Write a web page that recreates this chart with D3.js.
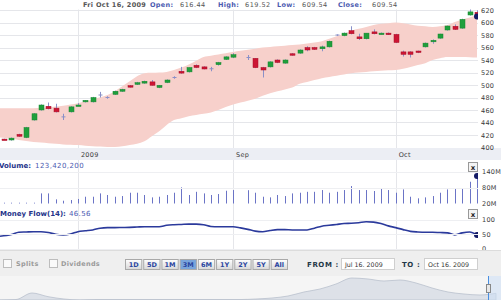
<!DOCTYPE html>
<html>
<head>
<meta charset="utf-8">
<script src="https://cdn.jsdelivr.net/npm/d3@7"></script>
<style>
body { margin: 0; background: #fff; }
svg { display: block; font-family: "DejaVu Sans", Verdana, sans-serif; }
</style>
</head>
<body>
<svg id="chart"></svg>
<script>
// daily OHLC, slot 32 is an empty gap in the feed
let opens  = [413.5,412,421,416,444,460,466,463,449,457,
              467,473,473,484,480,485,490,499,501,503,
              505,496,504,512,522,521,531.5,529,526,532.5,
              541,544.5,null,544,542.7,528,529,540,535,550,
              551,560,560,558,561,580,579,587,577,574,
              585,582,583,581,553,553,554.4,561,569.5,575,
              588,594,591,612,616.44];
let highs  = [414,416,422,433,455,469,472,470,454,466,
              471,476,481,489,482,491,494,500,505,507,
              508,500,509,514,529,528,533,530,529,537,
              546,551,null,548,543,529,538,541,541,551,
              557,562,561,563,571,581,584,594,582,583,
              589,584,584,582,555,554,555,568,573,582,
              595,597,606,626,619.52];
let lows   = [412.5,411,417,415,443,459,461,456,444,456,
              466,472,472,480,478,484,489,496,500,502,
              499,495,503,510,518,520,527,525,522,531,
              540,543,null,540,527,512,528,535,534,547,
              550,554,556,554,560,578.5,578,581,572,573,
              581,581,580,567,545.5,544,551,560,566,574,
              587,588,590,611,609.54];
let closes = [413,415,418,432,454,468,462,457,449,465,
              468,475.5,480,484,480,490,493,496.5,503.7,506,
              499.5,499.5,508,512,519,528,528,525.6,526,536,
              545,548.5,null,544,527.7,524,537,536,540,548,
              556,556,557,561,570,580,583,582,574,583,
              582,583,580.5,568,549,549,552,567,571.5,581.6,
              594.4,589,605,617,609.54];

// envelope band (upper / lower)
let band_upper = [463,463,463,463,463,463.5,464,465.5,467,469,
                  471,474,477,480.5,484,490,498,506,514,519,
                  519.5,520,521,524,528,533,539,545,547,549,
                  551,553,555,556.5,558,560,561,562,563,564,
                  565,566.5,568,570,574,578,582,587,590,593,
                  596,598,599,600,599,597,595,594,593,594,
                  596,601,605,608,613];
let band_lower = [416,414,412,410.5,409,408,407,406,405,404.5,
                  404,403,402,401.5,401,401,402,404,406,410,
                  418,426,436,444,447,450,452,454,456,460,
                  465,469,472,475,478,483,487,490,493,496,
                  502,505,508,511,513,515,517,519,520,521,
                  522,523,523.5,524,526,529,532,535,540,543,
                  545,545,545,544.5,544];

// volume in millions
let volumes = [23,23,23,23,23,58,58,35.6,30.5,33,
               37,45.5,45.5,58,52,45.5,48,60.5,60.5,52,
               43,45.5,52,60.5,80.7,52,64,58,52,55.6,
               68,70.6,null,70,60.5,45.5,43,52,48,58,
               60.5,64,64,70.6,60.5,64,70.6,85.6,70.6,70.6,
               67,78,70.6,60.5,73,45.5,39.5,43,48,60.5,
               73,77,77,101.8,123.4202];

let money_flow = [42,48,56,57,58,58,55,49,47,50,
                  58,61,64,70,72,72,72.5,73,74,75,
                  75,75,80,82,83,84,84,82,76,75,
                  75,75,71,66,60,58,62,65,65,64,
                  64,64,70,77,80,83,86,87,89,92,
                  91,86,78,72,65,59,57,56,56,55,
                  54,47,54,57,46.56];

let month_labels = ["2009", "Sep", "Oct"];
let month_index = [10, 31, 53];
let price_ticks = [400,420,440,460,480,500,520,540,560,580,600,620];
let volume_ticks = [20, 80, 140];
let mf_ticks = [0, 50, 100];

let quote_date = "Fri Oct 16, 2009";
let quote_names = ["Open:", "High:", "Low:", "Close:"];
let quote_values = ["616.44", "619.52", "609.54", "609.54"];
let volume_title = "Volume:";
let volume_text = "123,420,200";
let mf_title = "Money Flow(14):";
let mf_text = "46.56";

let range_buttons = ["1D","5D","1M","3M","6M","1Y","2Y","5Y","All"];
let range_active = "3M";
let date_from = "Jul 16. 2009";
let date_to = "Oct 16. 2009";

// long-range navigator series
let nav_values = [280,287,385,330,295,280,287,287,287,287,287,287,287,287,287,287,
                  295,310,340,400,445,520,610,595,565,580,535,460,400,370,355,380];

let width = 501, height = 300;
let plot_left = 0, plot_right = 478;
let svg = d3.select('#chart').attr('width', width).attr('height', height);

let x = d3.scaleLinear([0, 64], [4, 477]);
let y_price = d3.scaleLinear([400, 620], [147.5, 10]);
let y_vol = d3.scaleLinear([20, 140], [203.5, 171.6]);
let y_mf = d3.scaleLinear([0, 100], [248.5, 219.5]);
let x_nav = d3.scaleLinear([0, nav_values.length - 1], [0, 496]);
let y_nav = d3.scaleLinear([280, 640], [300, 276]);

let grid_color = '#e5e6ea';
let axis_color = '#3a3a3a';
let title_blue = '#25348a';
let value_blue = '#4a5ab0';

svg.append('clipPath').attr('id', 'plot-clip')
    .append('rect').attr('x', plot_left).attr('y', 0).attr('width', plot_right - plot_left).attr('height', 300);

// ---------- main price panel ----------
svg.append('g').selectAll('line').data(price_ticks).join('line')
    .attr('x1', plot_left).attr('x2', plot_right)
    .attr('y1', d => Math.round(y_price(d)) + 0.5).attr('y2', d => Math.round(y_price(d)) + 0.5)
    .attr('stroke', grid_color);

// x axis band
svg.append('rect').attr('x', 0).attr('y', 148).attr('width', width).attr('height', 12).attr('fill', '#eceef4');

// vertical month lines in every panel
[[0, 148], [160, 208], [208, 250]].forEach(([y0, y1]) => {
    svg.append('g').selectAll('line').data(month_index).join('line')
        .attr('x1', d => Math.round(x(d)) + 0.5).attr('x2', d => Math.round(x(d)) + 0.5)
        .attr('y1', y0).attr('y2', y1)
        .attr('stroke', grid_color);
});

let plot = svg.append('g').attr('clip-path', 'url(#plot-clip)');

let band = d3.area()
    .defined(d => d[0] != null)
    .x((d, i) => i === 0 ? plot_left : x(i))
    .y0(d => y_price(d[1]))
    .y1(d => y_price(d[0]))
    .curve(d3.curveMonotoneX);
plot.append('path')
    .datum(band_upper.map((u, i) => [u, band_lower[i]]))
    .attr('d', band)
    .attr('fill', '#f7d0cb');

// candles
let candles = opens.map((o, i) => ({ i: i, o: o, h: highs[i], l: lows[i], c: closes[i] }))
    .filter(d => d.o != null);
let wick_color = '#8a90c8';
let body_w = 5;

let candle = plot.append('g').selectAll('g').data(candles).join('g');
candle.append('line')
    .attr('x1', d => Math.round(x(d.i)) + 0.5).attr('x2', d => Math.round(x(d.i)) + 0.5)
    .attr('y1', d => y_price(d.h)).attr('y2', d => y_price(d.l))
    .attr('stroke', wick_color).attr('stroke-width', 1);
candle.filter(d => d.o !== d.c).append('rect')
    .attr('x', d => Math.round(x(d.i)) + 0.5 - body_w / 2)
    .attr('y', d => y_price(Math.max(d.o, d.c)))
    .attr('width', body_w)
    .attr('height', d => Math.max(1.5, y_price(Math.min(d.o, d.c)) - y_price(Math.max(d.o, d.c))))
    .attr('fill', d => d.c > d.o ? '#1f9f3c' : '#cc1533')
    .attr('stroke', d => d.c > d.o ? '#15862f' : '#a80f28')
    .attr('stroke-width', 0.5);
candle.filter(d => d.o === d.c).append('line')
    .attr('x1', d => Math.round(x(d.i)) + 0.5 - 2).attr('x2', d => Math.round(x(d.i)) + 0.5 + 2)
    .attr('y1', d => y_price(d.o)).attr('y2', d => y_price(d.o))
    .attr('stroke', wick_color);

// last close marker
plot.append('circle')
    .attr('cx', x(64)).attr('cy', y_price(closes[64])).attr('r', 3)
    .attr('fill', '#141a66');

// quote header
let header = svg.append('g').attr('font-size', 6.5).attr('font-weight', 'bold');
header.append('rect').attr('x', 0).attr('y', 0).attr('width', plot_right).attr('height', 9.5).attr('fill', '#fff');
header.append('text').attr('x', 83).attr('y', 7).attr('fill', '#555').attr('letter-spacing', 0.3).text(quote_date);
let name_x = [150, 218, 277, 338];
let value_x = [180, 245, 302, 372];
quote_names.forEach((n, k) => {
    header.append('text').attr('x', name_x[k]).attr('y', 7).attr('fill', value_blue).attr('letter-spacing', 0.3).text(n);
    header.append('text').attr('x', value_x[k]).attr('y', 7).attr('fill', '#555').attr('font-weight', 'normal')
        .attr('letter-spacing', 0.5).text(quote_values[k]);
});

// right price axis
svg.append('g').selectAll('text').data(price_ticks).join('text')
    .attr('x', 481).attr('y', d => y_price(d) + 2.5)
    .attr('font-size', 6.5).attr('letter-spacing', 0.3).attr('fill', axis_color)
    .text(d => d);

// month labels
svg.append('g').selectAll('text').data(month_labels).join('text')
    .attr('x', (d, k) => x(month_index[k]) + 3).attr('y', 157)
    .attr('font-size', 6.5).attr('letter-spacing', 0.3).attr('fill', axis_color)
    .text(d => d);

// ---------- volume panel ----------
svg.append('g').selectAll('line').data(volume_ticks.slice(1)).join('line')
    .attr('x1', 0).attr('x2', plot_right)
    .attr('y1', d => Math.round(y_vol(d)) + 0.5).attr('y2', d => Math.round(y_vol(d)) + 0.5)
    .attr('stroke', '#eeeff2');

let vol_title = svg.append('text').attr('x', -1).attr('y', 168).attr('font-size', 7);
vol_title.append('tspan').attr('font-weight', 'bold').attr('fill', title_blue).text(volume_title);
vol_title.append('tspan').attr('dx', 4).attr('fill', value_blue).attr('letter-spacing', 0.4).text(volume_text);

plot.append('g').selectAll('line').data(volumes.map((v, i) => [i, v]).filter(d => d[1] != null)).join('line')
    .attr('x1', d => Math.round(x(d[0])) + 0.5).attr('x2', d => Math.round(x(d[0])) + 0.5)
    .attr('y1', y_vol(20)).attr('y2', d => Math.min(y_vol(20) - 0.8, y_vol(d[1])))
    .attr('stroke', '#6b74c6').attr('stroke-width', 1);
plot.append('circle').attr('cx', x(64)).attr('cy', y_vol(volumes[64])).attr('r', 3).attr('fill', '#141a66');

svg.append('g').selectAll('text').data(volume_ticks).join('text')
    .attr('x', 482).attr('y', d => y_vol(d) + 2.5)
    .attr('font-size', 6.5).attr('letter-spacing', 0.3).attr('fill', axis_color)
    .text(d => d + 'M');

// ---------- money flow panel ----------
svg.append('g').selectAll('line').data(mf_ticks).join('line')
    .attr('x1', 0).attr('x2', plot_right)
    .attr('y1', d => Math.round(y_mf(d)) + 0.5).attr('y2', d => Math.round(y_mf(d)) + 0.5)
    .attr('stroke', '#eeeff2');

let mf_head = svg.append('text').attr('x', 0).attr('y', 215.5).attr('font-size', 7);
mf_head.append('tspan').attr('font-weight', 'bold').attr('fill', title_blue).text(mf_title);
mf_head.append('tspan').attr('dx', 3).attr('fill', value_blue).attr('letter-spacing', 0.4).text(mf_text);

let mf_line = d3.line()
    .x((d, i) => i === 0 ? plot_left : x(i))
    .y(d => y_mf(d))
    .curve(d3.curveMonotoneX);
plot.append('path').datum(money_flow).attr('d', mf_line)
    .attr('fill', 'none').attr('stroke', '#2b3a9c').attr('stroke-width', 1.6);
plot.append('circle').attr('cx', x(64)).attr('cy', y_mf(money_flow[64])).attr('r', 3).attr('fill', '#141a66');

svg.append('g').selectAll('text').data(mf_ticks).join('text')
    .attr('x', 482).attr('y', d => y_mf(d) + 2.5)
    .attr('font-size', 6.5).attr('letter-spacing', 0.3).attr('fill', axis_color)
    .text(d => d);

// panel close buttons
[162, 209].forEach(by => {
    let b = svg.append('g');
    b.append('rect').attr('x', 468.5).attr('y', by + 0.5).attr('width', 9).attr('height', 9)
        .attr('fill', '#f4f4f4').attr('stroke', '#999');
    b.append('text').attr('x', 473).attr('y', by + 7.5).attr('text-anchor', 'middle')
        .attr('font-size', 7).attr('font-weight', 'bold').attr('fill', '#222').text('x');
});

// ---------- controls row ----------
svg.append('rect').attr('x', 0).attr('y', 251).attr('width', width).attr('height', 25).attr('fill', '#efefef');
svg.append('line').attr('x1', 0).attr('x2', width).attr('y1', 250.5).attr('y2', 250.5).attr('stroke', '#dcdcdc');

[[3, 'Splits', 16], [49, 'Dividends', 61]].forEach(([cx, label, tx]) => {
    svg.append('rect').attr('x', cx + 0.5).attr('y', 259.5).attr('width', 8).attr('height', 8)
        .attr('fill', '#fafafa').attr('stroke', '#bdbdbd');
    svg.append('text').attr('x', tx).attr('y', 266).attr('font-size', 6.5).attr('font-weight', 'bold')
        .attr('fill', '#9a9a9a').attr('letter-spacing', 0.3).text(label);
});

let grad = svg.append('defs').append('linearGradient').attr('id', 'btn-grad').attr('x1', 0).attr('x2', 0).attr('y1', 0).attr('y2', 1);
grad.append('stop').attr('offset', 0).attr('stop-color', '#ffffff');
grad.append('stop').attr('offset', 1).attr('stop-color', '#d8d8d8');

let btn_x = d3.scaleBand(range_buttons, [125, 288]).paddingInner(0.05);
let btn = svg.append('g').selectAll('g').data(range_buttons).join('g');
btn.append('rect')
    .attr('x', d => btn_x(d) + 0.5).attr('y', 259.5)
    .attr('width', btn_x.bandwidth() - 1).attr('height', 10)
    .attr('fill', d => d === range_active ? '#79a4db' : 'url(#btn-grad)')
    .attr('stroke', '#a9a9a9');
btn.append('text')
    .attr('x', d => btn_x(d) + btn_x.bandwidth() / 2).attr('y', 267)
    .attr('text-anchor', 'middle').attr('font-size', 6.5).attr('font-weight', 'bold')
    .attr('fill', '#2a45a0').text(d => d);

svg.append('text').attr('x', 307).attr('y', 267).attr('font-size', 7).attr('font-weight', 'bold')
    .attr('letter-spacing', 0.6).attr('fill', '#1f3848').text('FROM :');
svg.append('text').attr('x', 402).attr('y', 267).attr('font-size', 7).attr('font-weight', 'bold')
    .attr('letter-spacing', 0.6).attr('fill', '#1f3848').text('TO :');
[[341, date_from], [424, date_to]].forEach(([bx, txt]) => {
    svg.append('rect').attr('x', bx + 0.5).attr('y', 258.5).attr('width', 53).attr('height', 11)
        .attr('fill', '#fff').attr('stroke', '#cfcfcf');
    svg.append('text').attr('x', bx + 4).attr('y', 266.5).attr('font-size', 6.3)
        .attr('fill', '#333').text(txt);
});

// ---------- navigator ----------
svg.append('rect').attr('x', 0).attr('y', 276).attr('width', width).attr('height', 24).attr('fill', '#f5f5f5');
let nav_area = d3.area()
    .x((d, i) => x_nav(i))
    .y0(300)
    .y1(d => y_nav(d))
    .curve(d3.curveMonotoneX);
svg.append('path').datum(nav_values).attr('d', nav_area)
    .attr('fill', '#dde1e8').attr('stroke', '#b9c0cd').attr('stroke-width', 0.8);
svg.append('rect').attr('x', 489).attr('y', 276).attr('width', 12).attr('height', 24)
    .attr('fill', '#cfe0f5').attr('opacity', 0.6);
svg.append('line').attr('x1', 488.5).attr('x2', 488.5).attr('y1', 276).attr('y2', 300).attr('stroke', '#4a8fe0');
svg.append('rect').attr('x', 486.5).attr('y', 284.5).attr('width', 4).attr('height', 8)
    .attr('fill', '#e8e8e8').attr('stroke', '#888');
</script>
</body>
</html>
